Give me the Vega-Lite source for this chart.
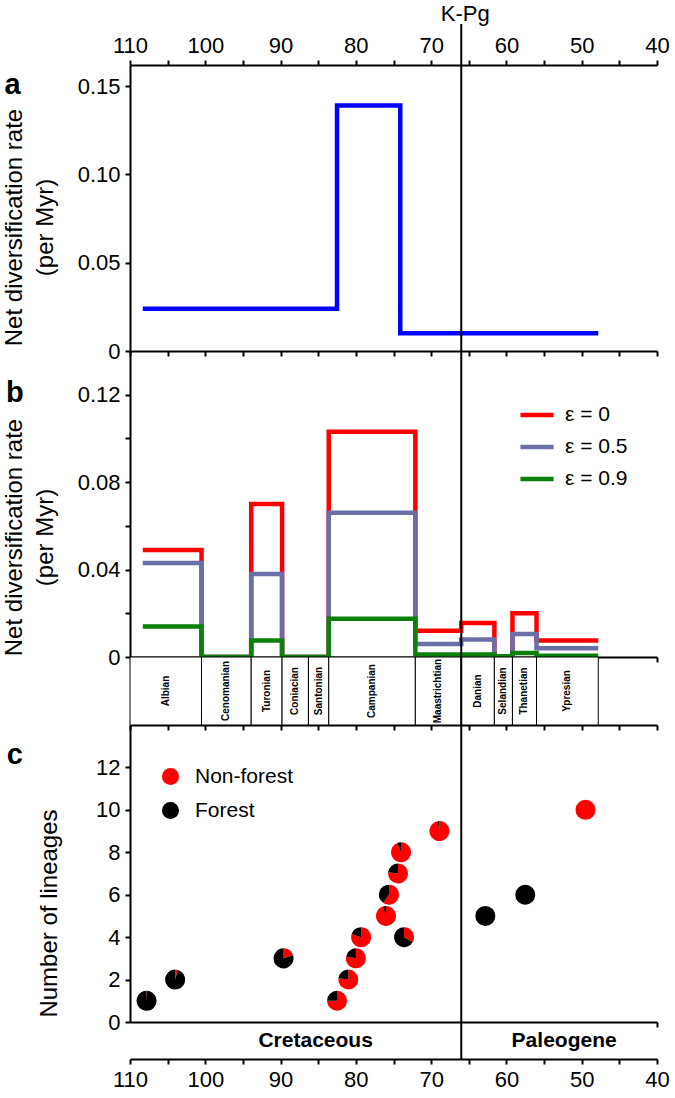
{
  "$schema": "https://vega.github.io/schema/vega-lite/v6.json",
  "background": "white",
  "padding": {"left": 1, "top": 3, "right": 5, "bottom": 5},
  "bounds": "flush",
  "spacing": 0,
  "resolve": {"scale": {"color": "independent"}, "legend": {"color": "independent"}},
  "config": {
    "font": "Liberation Sans",
    "view": {"stroke": null},
    "axis": {
      "domainColor": "#000", "domainWidth": 2, "tickColor": "#000", "tickWidth": 2, "tickSize": 5,
      "labelColor": "#000", "labelFont": "Liberation Sans", "labelFontSize": 22, "labelPadding": 4,
      "labelFlush": false, "labelOverlap": false, "grid": false,
      "titleFont": "Liberation Sans", "titleFontSize": 24, "titleFontWeight": "normal", "titleColor": "#000"
    },
    "legend": {"labelFont": "Liberation Sans", "labelColor": "#000"}
  },
  "datasets": {
    "one": [{}],
    "rateA": [
      {"age": 108.3, "rate": 0.024},
      {"age": 82.5, "rate": 0.139},
      {"age": 74.1, "rate": 0.010},
      {"age": 47.8, "rate": 0.010}
    ],
    "rateB": [
      {"eps": "ε = 0", "age": 108.3, "rate": 0.049},
      {"eps": "ε = 0", "age": 100.5, "rate": 0},
      {"eps": "ε = 0", "age": 93.9, "rate": 0.070},
      {"eps": "ε = 0", "age": 89.8, "rate": 0},
      {"eps": "ε = 0", "age": 86.3, "rate": 0},
      {"eps": "ε = 0", "age": 83.6, "rate": 0.103},
      {"eps": "ε = 0", "age": 72.1, "rate": 0.012},
      {"eps": "ε = 0", "age": 66.0, "rate": 0.0155},
      {"eps": "ε = 0", "age": 61.6, "rate": 0},
      {"eps": "ε = 0", "age": 59.2, "rate": 0.020},
      {"eps": "ε = 0", "age": 56.0, "rate": 0.0075},
      {"eps": "ε = 0", "age": 47.8, "rate": 0.0075},
      {"eps": "ε = 0.5", "age": 108.3, "rate": 0.043},
      {"eps": "ε = 0.5", "age": 100.5, "rate": 0},
      {"eps": "ε = 0.5", "age": 93.9, "rate": 0.038},
      {"eps": "ε = 0.5", "age": 89.8, "rate": 0},
      {"eps": "ε = 0.5", "age": 86.3, "rate": 0},
      {"eps": "ε = 0.5", "age": 83.6, "rate": 0.066},
      {"eps": "ε = 0.5", "age": 72.1, "rate": 0.006},
      {"eps": "ε = 0.5", "age": 66.0, "rate": 0.008},
      {"eps": "ε = 0.5", "age": 61.6, "rate": 0},
      {"eps": "ε = 0.5", "age": 59.2, "rate": 0.0105},
      {"eps": "ε = 0.5", "age": 56.0, "rate": 0.004},
      {"eps": "ε = 0.5", "age": 47.8, "rate": 0.004},
      {"eps": "ε = 0.9", "age": 108.3, "rate": 0.014},
      {"eps": "ε = 0.9", "age": 100.5, "rate": 0},
      {"eps": "ε = 0.9", "age": 93.9, "rate": 0.0075},
      {"eps": "ε = 0.9", "age": 89.8, "rate": 0},
      {"eps": "ε = 0.9", "age": 86.3, "rate": 0},
      {"eps": "ε = 0.9", "age": 83.6, "rate": 0.0175},
      {"eps": "ε = 0.9", "age": 72.1, "rate": 0.0012},
      {"eps": "ε = 0.9", "age": 66.0, "rate": 0.0012},
      {"eps": "ε = 0.9", "age": 61.6, "rate": 0.0003},
      {"eps": "ε = 0.9", "age": 59.2, "rate": 0.0018},
      {"eps": "ε = 0.9", "age": 56.0, "rate": 0.0006},
      {"eps": "ε = 0.9", "age": 47.8, "rate": 0.0006}
    ],
    "stages": [
      {"stage": "Albian", "start": 110, "end": 100.5},
      {"stage": "Cenomanian", "start": 100.5, "end": 93.9},
      {"stage": "Turonian", "start": 93.9, "end": 89.8},
      {"stage": "Coniacian", "start": 89.8, "end": 86.3},
      {"stage": "Santonian", "start": 86.3, "end": 83.6},
      {"stage": "Campanian", "start": 83.6, "end": 72.1},
      {"stage": "Maastrichtian", "start": 72.1, "end": 66.0},
      {"stage": "Danian", "start": 66.0, "end": 61.6},
      {"stage": "Selandian", "start": 61.6, "end": 59.2},
      {"stage": "Thanetian", "start": 59.2, "end": 56.0},
      {"stage": "Ypresian", "start": 56.0, "end": 47.8}
    ],
    "pies": [
      {"age": 107.8, "n": 1, "Non-forest": 0.01, "Forest": 0.99},
      {"age": 104.0, "n": 2, "Non-forest": 0.04, "Forest": 0.96},
      {"age": 89.6, "n": 3, "Non-forest": 0.2, "Forest": 0.8},
      {"age": 82.5, "n": 1, "Non-forest": 0.75, "Forest": 0.25},
      {"age": 81.0, "n": 2, "Non-forest": 0.77, "Forest": 0.23},
      {"age": 80.0, "n": 3, "Non-forest": 0.78, "Forest": 0.22},
      {"age": 79.3, "n": 4, "Non-forest": 0.8, "Forest": 0.2},
      {"age": 76.0, "n": 5, "Non-forest": 0.95, "Forest": 0.05},
      {"age": 75.6, "n": 6, "Non-forest": 0.6, "Forest": 0.4},
      {"age": 74.4, "n": 7, "Non-forest": 0.77, "Forest": 0.23},
      {"age": 74.0, "n": 8, "Non-forest": 0.94, "Forest": 0.06},
      {"age": 73.6, "n": 4, "Non-forest": 0.33, "Forest": 0.67},
      {"age": 68.9, "n": 9, "Non-forest": 0.97, "Forest": 0.03},
      {"age": 62.8, "n": 5, "Non-forest": 0, "Forest": 1},
      {"age": 57.5, "n": 6, "Non-forest": 0, "Forest": 1},
      {"age": 49.5, "n": 10, "Non-forest": 1, "Forest": 0}
    ],
    "eras": [
      {"era": "Cretaceous", "start": 110, "end": 66},
      {"era": "Paleogene", "start": 66, "end": 40}
    ]
  },
  "vconcat": [
    {
      "width": 527, "height": 286,
      "layer": [
        {
          "data": {"name": "rateA"},
          "mark": {"type": "line", "interpolate": "step-after", "color": "#0000ff", "strokeWidth": 4.5},
          "encoding": {
            "x": {"field": "age", "type": "quantitative", "scale": {"domain": [110, 40], "nice": false},
                  "axis": {"orient": "top", "title": null, "values": [110,105,100,95,90,85,80,75,70,65,60,55,50,45,40],
                           "labelExpr": "datum.value % 10 == 0 ? datum.label : ''", "labelPadding": 3}},
            "y": {"field": "rate", "type": "quantitative", "scale": {"domain": [0, 0.162], "nice": false},
                  "axis": {"values": [0, 0.05, 0.1, 0.15], "labelExpr": "datum.value == 0 ? '0' : format(datum.value, '.2f')",
                           "labelPadding": 5, "title": ["Net diversification rate", "(per Myr)"],
                           "titleX": -116, "titleY": 162, "titleBaseline": "middle", "titleLineHeight": 31}},
            "order": {"field": "age", "sort": "descending"}
          }
        },
        {
          "data": {"name": "one"},
          "mark": {"type": "rule", "color": "#000", "strokeWidth": 2},
          "encoding": {
            "x": {"datum": 66, "type": "quantitative", "scale": {"domain": [110, 40], "nice": false},
                  "axis": {"orient": "bottom", "title": null, "labels": false, "values": [110,105,100,95,90,85,80,75,70,65,60,55,50,45,40]}},
            "y": {"datum": 0, "type": "quantitative", "scale": {"domain": [0, 0.162], "nice": false}, "axis": null},
            "y2": {"datum": 0.1852}
          }
        },
        {
          "data": {"name": "one"},
          "mark": {"type": "text", "fontSize": 22, "align": "center", "baseline": "alphabetic", "dx": 4, "color": "#000"},
          "encoding": {
            "x": {"datum": 66, "type": "quantitative", "scale": {"domain": [110, 40], "nice": false}, "axis": null},
            "y": {"datum": 0.1869, "type": "quantitative", "scale": {"domain": [0, 0.162], "nice": false}, "axis": null},
            "text": {"value": "K-Pg"}
          }
        },
        {
          "data": {"name": "one"},
          "mark": {"type": "text", "fontSize": 29, "fontWeight": "bold", "align": "center", "baseline": "alphabetic", "color": "#000"},
          "encoding": {
            "x": {"datum": 125.6, "type": "quantitative", "scale": {"domain": [110, 40], "nice": false}, "axis": null},
            "y": {"datum": 0.1456, "type": "quantitative", "scale": {"domain": [0, 0.162], "nice": false}, "axis": null},
            "text": {"value": "a"}
          }
        }
      ],
      "resolve": {"axis": {"x": "independent", "y": "independent"}}
    },
    {
      "width": 527, "height": 306,
      "layer": [
        {
          "data": {"name": "rateB"},
          "mark": {"type": "line", "interpolate": "step-after", "strokeWidth": 4.5},
          "encoding": {
            "x": {"field": "age", "type": "quantitative", "scale": {"domain": [110, 40], "nice": false},
                  "axis": {"orient": "bottom", "title": null, "labels": false, "values": [40]}},
            "y": {"field": "rate", "type": "quantitative", "scale": {"domain": [0, 0.14], "nice": false},
                  "axis": {"values": [0, 0.02, 0.04, 0.06, 0.08, 0.1, 0.12],
                           "labelExpr": "datum.value == 0 ? '0' : (round(datum.value * 100) % 4 == 0 ? format(datum.value, '.2f') : '')",
                           "labelPadding": 5, "title": ["Net diversification rate", "(per Myr)"],
                           "titleX": -116, "titleY": 186, "titleBaseline": "middle", "titleLineHeight": 31}},
            "color": {"field": "eps", "type": "nominal",
                      "scale": {"domain": ["ε = 0", "ε = 0.5", "ε = 0.9"], "range": ["#ff0000", "#6b6fa8", "#0b800b"]},
                      "legend": {"orient": "none", "legendX": 388, "legendY": 45, "title": null, "symbolType": "stroke",
                                 "symbolStrokeWidth": 4.5, "symbolSize": 1100, "labelFontSize": 21, "rowPadding": 3,
                                 "labelOffset": 9, "padding": 0}},
            "order": {"field": "age", "sort": "descending"}
          }
        },
        {
          "data": {"name": "one"},
          "mark": {"type": "rule", "color": "#000", "strokeWidth": 2},
          "encoding": {"x": {"datum": 66, "type": "quantitative", "scale": {"domain": [110, 40], "nice": false}, "axis": null}}
        },
        {
          "data": {"name": "one"},
          "mark": {"type": "text", "fontSize": 29, "fontWeight": "bold", "align": "center", "baseline": "alphabetic", "color": "#000"},
          "encoding": {
            "x": {"datum": 125.3, "type": "quantitative", "scale": {"domain": [110, 40], "nice": false}, "axis": null},
            "y": {"datum": 0.1167, "type": "quantitative", "scale": {"domain": [0, 0.14], "nice": false}, "axis": null},
            "text": {"value": "b"}
          }
        }
      ],
      "resolve": {"axis": {"x": "independent", "y": "independent"}}
    },
    {
      "width": 527, "height": 68,
      "layer": [
        {
          "data": {"name": "stages"},
          "mark": {"type": "rect", "fill": "white", "stroke": "#000", "strokeWidth": 1},
          "encoding": {
            "x": {"field": "start", "type": "quantitative", "scale": {"domain": [110, 40], "nice": false},
                  "axis": {"orient": "bottom", "title": null, "labels": false, "values": [110,105,100,95,90,85,80,75,70,65,60,55,50,45,40]}},
            "x2": {"field": "end"}
          }
        },
        {
          "data": {"name": "stages"},
          "transform": [{"calculate": "(datum.start + datum.end) / 2", "as": "mid"}],
          "mark": {"type": "text", "angle": 270, "fontSize": 10, "fontWeight": "bold", "align": "center", "baseline": "middle", "color": "#000"},
          "encoding": {
            "x": {"field": "mid", "type": "quantitative", "scale": {"domain": [110, 40], "nice": false}, "axis": null},
            "text": {"field": "stage"}
          }
        },
        {
          "data": {"name": "one"},
          "mark": {"type": "rule", "color": "#000", "strokeWidth": 2},
          "encoding": {"x": {"datum": 66, "type": "quantitative", "scale": {"domain": [110, 40], "nice": false}, "axis": null}}
        }
      ],
      "resolve": {"axis": {"x": "independent"}}
    },
    {
      "width": 527, "height": 297,
      "layer": [
        {
          "data": {"name": "pies"},
          "transform": [
            {"fold": ["Non-forest", "Forest"], "as": ["habitat", "share"]},
            {"stack": "share", "groupby": ["age", "n"], "sort": [{"field": "habitat", "order": "descending"}], "as": ["s0", "s1"]}
          ],
          "mark": {"type": "arc", "radius": 10},
          "encoding": {
            "x": {"field": "age", "type": "quantitative", "scale": {"domain": [110, 40], "nice": false},
                  "axis": {"orient": "bottom", "title": null, "labels": false, "values": [40]}},
            "y": {"field": "n", "type": "quantitative", "scale": {"domain": [0, 14], "nice": false},
                  "axis": {"values": [0, 2, 4, 6, 8, 10, 12], "labelPadding": 5, "title": "Number of lineages",
                           "titleX": -81, "titleY": 188, "titleBaseline": "middle"}},
            "theta": {"field": "s0", "type": "quantitative", "stack": null, "scale": {"domain": [0, 1], "range": [0, 6.283185]}},
            "theta2": {"field": "s1"},
            "color": {"field": "habitat", "type": "nominal",
                      "scale": {"domain": ["Non-forest", "Forest"], "range": ["#ff0000", "#000000"]},
                      "legend": {"orient": "none", "legendX": 30, "legendY": 41, "title": null, "symbolType": "circle",
                                 "symbolSize": 290, "labelFontSize": 21, "rowPadding": 12, "labelOffset": 14, "padding": 0}}
          }
        },
        {
          "data": {"name": "one"},
          "mark": {"type": "rule", "color": "#000", "strokeWidth": 2},
          "encoding": {"x": {"datum": 66, "type": "quantitative", "scale": {"domain": [110, 40], "nice": false}, "axis": null}}
        },
        {
          "data": {"name": "one"},
          "mark": {"type": "text", "fontSize": 29, "fontWeight": "bold", "align": "center", "baseline": "alphabetic", "color": "#000"},
          "encoding": {
            "x": {"datum": 125.3, "type": "quantitative", "scale": {"domain": [110, 40], "nice": false}, "axis": null},
            "y": {"datum": 12.16, "type": "quantitative", "scale": {"domain": [0, 14], "nice": false}, "axis": null},
            "text": {"value": "c"}
          }
        }
      ],
      "resolve": {"axis": {"x": "independent", "y": "independent"}}
    },
    {
      "width": 527, "height": 37,
      "layer": [
        {
          "data": {"name": "eras"},
          "transform": [{"filter": "datum.era == 'Cretaceous'"}, {"calculate": "(datum.start + datum.end) / 2", "as": "mid"}],
          "mark": {"type": "text", "fontSize": 21, "fontWeight": "bold", "align": "center", "baseline": "middle", "dx": 20, "color": "#000"},
          "encoding": {
            "x": {"field": "mid", "type": "quantitative", "scale": {"domain": [110, 40], "nice": false},
                  "axis": {"orient": "bottom", "title": null, "values": [110,105,100,95,90,85,80,75,70,65,60,55,50,45,40],
                           "labelExpr": "datum.value % 10 == 0 ? datum.label : ''", "labelPadding": 5}},
            "text": {"field": "era"}
          }
        },
        {
          "data": {"name": "eras"},
          "transform": [{"filter": "datum.era == 'Paleogene'"}, {"calculate": "(datum.start + datum.end) / 2", "as": "mid"}],
          "mark": {"type": "text", "fontSize": 21, "fontWeight": "bold", "align": "center", "baseline": "middle", "dx": 5, "color": "#000"},
          "encoding": {
            "x": {"field": "mid", "type": "quantitative", "scale": {"domain": [110, 40], "nice": false}, "axis": null},
            "text": {"field": "era"}
          }
        },
        {
          "data": {"name": "one"},
          "mark": {"type": "rule", "color": "#000", "strokeWidth": 2},
          "encoding": {"x": {"datum": 66, "type": "quantitative", "scale": {"domain": [110, 40], "nice": false}, "axis": null}}
        }
      ],
      "resolve": {"axis": {"x": "independent"}}
    }
  ]
}
